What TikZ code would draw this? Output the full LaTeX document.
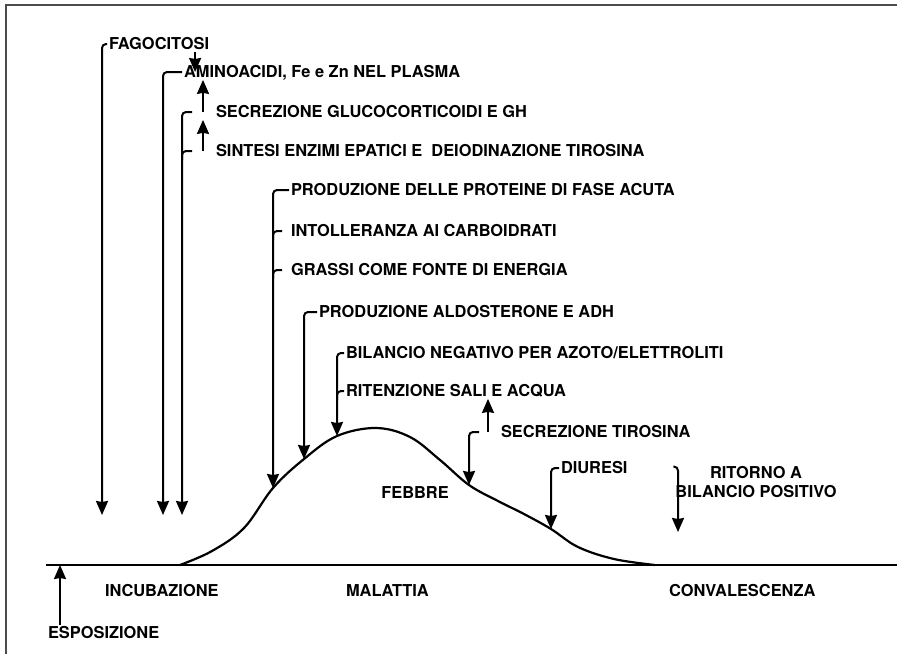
\documentclass[tikz,border=0pt]{standalone}
\usepackage{fontspec}
\setmainfont{TeX Gyre Heros}
\usepackage{tikz}
\usetikzlibrary{arrows.meta, positioning, calc}

\tikzset{
  lbl/.style={font=\fontsize{16.4}{18}\selectfont\bfseries, inner sep=1pt, text height=11.8pt, text depth=0pt, anchor=west},
  hook/.style={rounded corners=4pt},
}

\begin{document}
\begin{tikzpicture}[x=1pt, y=-1pt, line width=2pt, >={Stealth[length=14pt,width=12pt,inset=1pt]}]
        \useasboundingbox (0,0) rectangle (897,654);
        \draw[black!70, line width=2pt] (6,654) -- (6,5) -- (897,5);

        % events above the curve
        \node (fago)   [lbl] at (107,44)  {FAGOCITOSI};
        \node (amino)  [lbl] at (182,72)  {AMINOACIDI, Fe e Zn NEL PLASMA};
        \node (secr)   [lbl] at (214,112) {SECREZIONE GLUCOCORTICOIDI E GH};
        \node (sint)   [lbl] at (214,151) {SINTESI ENZIMI EPATICI E\ \ DEIODINAZIONE TIROSINA};
        \node (prot)   [lbl] at (289,190) {PRODUZIONE DELLE PROTEINE DI FASE ACUTA};
        \node (intol)  [lbl] at (289,231) {INTOLLERANZA AI CARBOIDRATI};
        \node (grassi) [lbl] at (289,270) {GRASSI COME FONTE DI ENERGIA};
        \node (aldo)   [lbl] at (317,312) {PRODUZIONE ALDOSTERONE E ADH};
        \node (bneg)   [lbl] at (344,353) {BILANCIO NEGATIVO PER AZOTO/ELETTROLITI};
        \node (riten)  [lbl] at (344,391) {RITENZIONE SALI E ACQUA};
        \node (stir)   [lbl] at (499,432) {SECREZIONE TIROSINA};
        \node (diur)   [lbl] at (559,468) {DIURESI};
        \node (rit)    [font=\fontsize{16.4}{18.5}\selectfont\bfseries, inner sep=1pt, align=center] at (756,482) {RITORNO A\\BILANCIO POSITIVO};
        \node (febbre) [lbl, anchor=center] at (415,493) {FEBBRE};

        % phases
        \node (incub)  [lbl] at (103,591) {INCUBAZIONE};
        \node (malat)  [lbl] at (344,591) {MALATTIA};
        \node (conv)   [lbl] at (667,591) {CONVALESCENZA};
        \node (espo)   [lbl] at (46,633)  {ESPOSIZIONE};

        % baseline and fever curve
        \coordinate (b0) at (46,565);
        \coordinate (b1) at (897,565);
        \coordinate (c0) at (180,565);
        \coordinate (k1) at (273,488);
        \coordinate (k2) at (304,459);
        \coordinate (k3) at (337,436);
        \coordinate (pk) at (376,428);
        \coordinate (k4) at (469,485);
        \coordinate (k5) at (551,529);
        \coordinate (c1) at (655,565);
        \coordinate (t1) at (102,515);
        \coordinate (t2) at (163,515);
        \coordinate (t3) at (182,515);
        \coordinate (t4) at (678,532);

        \draw[line width=2.4pt] (b0) -- (b1);
        \draw[line width=2.2pt] plot[smooth, tension=0.6] coordinates {(c0) (212,551) (244,528) (k1) (k2) (k3) (pk) (410,437) (440,460) (k4) (498,501) (524,514) (k5) (578,547) (614,559) (c1)};

        % connectors
        \draw[->, hook] (fago.west) -| (t1);
        \draw[->, hook] (amino.west) -| (t2);
        \draw[->] ([xshift=-16pt]fago.south east) -- ([xshift=-16pt]fago.south east |- amino.west);
        \draw[->] ([xshift=-11pt]secr.west) -- ([xshift=-11pt]secr.west |- amino.south);
        \draw[->] ([xshift=-11pt]sint.west) -- ([xshift=-11pt]sint.west |- secr.south);
        \draw[->, hook] ([xshift=-22pt]secr.west) -| (t3);
        \draw[hook] ([yshift=-9pt]sint.west -| t3) |- ([xshift=-22pt]sint.west);
        \draw[->, hook] (prot.west) -| (k1);
        \draw[hook] ([yshift=-9pt]intol.west -| k1) |- ([xshift=-7pt]intol.west);
        \draw[hook] ([yshift=-9pt]grassi.west -| k1) |- ([xshift=-7pt]grassi.west);
        \draw[->, hook] (aldo.west) -| (k2);
        \draw[->, hook] (bneg.west) -| (k3);
        \draw[hook] ([yshift=-9pt]riten.west -| k3) |- (riten.west);
        \draw[->] ([xshift=-11pt]stir.west) -- ([xshift=-11pt]stir.west |- riten.south);
        \draw[->, hook] ([xshift=-20pt]stir.west) -| (k4);
        \draw[->, hook] (diur.west) -| (k5);
        \draw[->, hook] ([yshift=-2pt]rit.north west) -| (t4);
        \draw[->] ([xshift=14pt]espo.north west) -- ([xshift=14pt]espo.north west |- b0);
    \end{tikzpicture}
\end{document}
